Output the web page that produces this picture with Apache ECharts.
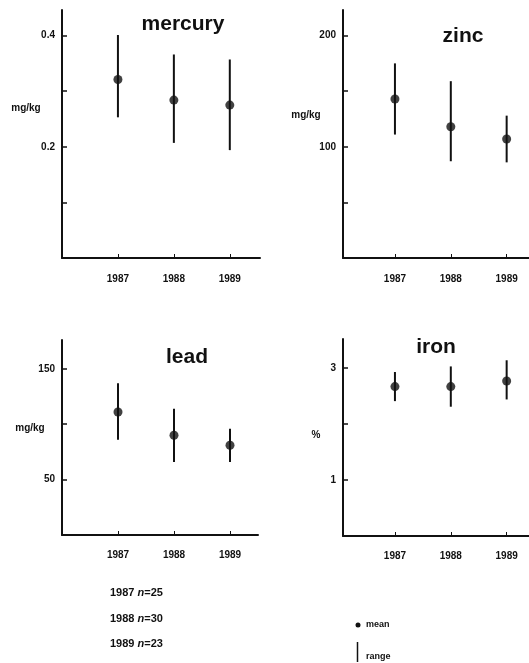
<!DOCTYPE html>
<html>
<head>
<meta charset="utf-8">
<script src="https://cdn.jsdelivr.net/npm/echarts@6/dist/echarts.min.js"></script>
<style>
  html, body { margin: 0; padding: 0; background: #fff; }
  #chart { width: 529px; height: 663px; }
</style>
</head>
<body>
<div id="chart"></div>
<script>
// years sampled
var years = [1987, 1988, 1989];

// mercury, mg/kg
var mercuryMean = [0.321, 0.284, 0.275];
var mercuryLow = [0.253, 0.207, 0.194];
var mercuryHigh = [0.401, 0.366, 0.357];

// zinc, mg/kg
var zincMean = [143, 118, 107];
var zincLow = [111, 87, 86];
var zincHigh = [175, 159, 128];

// lead, mg/kg
var leadMean = [111, 90, 81];
var leadLow = [86, 66, 66];
var leadHigh = [137, 114, 96];

// iron, %
var ironMean = [2.67, 2.67, 2.77];
var ironLow = [2.41, 2.31, 2.44];
var ironHigh = [2.93, 3.03, 3.14];

// y axis ticks and labelled ticks
var mercuryTicks = [0.1, 0.2, 0.3, 0.4];
var mercuryLabels = [0.2, 0.4];
var zincTicks = [50, 100, 150, 200];
var zincLabels = [100, 200];
var leadTicks = [50, 100, 150];
var leadLabels = [50, 150];
var ironTicks = [1, 2, 3];
var ironLabels = [1, 3];

var sampleNotes = ['1987', '1988', '1989'];
var sampleN = [25, 30, 23];

var FONT = '"Liberation Sans", Arial, sans-serif';
var INK = '#111';

var Chart = echarts.init(document.getElementById('chart'));

// one panel = grid + x axis + y axis + range bars + means
var panels = [
  { grid: { left: 62, top: 10, width: 198, height: 248 }, x: [1986, 1989.54], y: [0, 0.446],
    ticks: mercuryTicks, labels: mercuryLabels, mean: mercuryMean, low: mercuryLow, high: mercuryHigh, labelMargin: 16 },
  { grid: { left: 343, top: 10, width: 186, height: 248 }, x: [1986.07, 1989.4], y: [0, 223],
    ticks: zincTicks, labels: zincLabels, mean: zincMean, low: zincLow, high: zincHigh, labelMargin: 16 },
  { grid: { left: 62, top: 340, width: 196, height: 195 }, x: [1986, 1989.5], y: [0, 176],
    ticks: leadTicks, labels: leadLabels, mean: leadMean, low: leadLow, high: leadHigh, labelMargin: 15 },
  { grid: { left: 343, top: 339, width: 186, height: 197 }, x: [1986.07, 1989.4], y: [0, 3.52],
    ticks: ironTicks, labels: ironLabels, mean: ironMean, low: ironLow, high: ironHigh, labelMargin: 15 }
];

var grid = [], xAxis = [], yAxis = [], series = [];

panels.forEach(function (p, i) {
  grid.push(p.grid);
  xAxis.push({
    type: 'value', gridIndex: i, min: p.x[0], max: p.x[1],
    axisLine: { show: true, lineStyle: { color: INK, width: 2 } },
    axisTick: { show: true, inside: true, length: 4, customValues: years, lineStyle: { color: INK, width: 1 } },
    axisLabel: {
      customValues: years, margin: p.labelMargin,
      color: INK, fontFamily: FONT, fontWeight: 'bold', fontSize: 10,
      formatter: function (v) { return String(v); }
    },
    splitLine: { show: false }
  });
  yAxis.push({
    type: 'value', gridIndex: i, min: p.y[0], max: p.y[1],
    axisLine: { show: true, lineStyle: { color: INK, width: 2 } },
    axisTick: { show: true, inside: true, length: 5, customValues: p.ticks, lineStyle: { color: INK, width: 1.5 } },
    axisLabel: {
      customValues: p.labels, margin: 7,
      color: INK, fontFamily: FONT, fontWeight: 'bold', fontSize: 10,
      formatter: function (v) { return String(v); }
    },
    splitLine: { show: false }
  });
  series.push({
    type: 'custom', xAxisIndex: i, yAxisIndex: i,
    encode: { x: 0, y: [1, 2] },
    renderItem: function (params, api) {
      var lo = api.coord([api.value(0), api.value(1)]);
      var hi = api.coord([api.value(0), api.value(2)]);
      return { type: 'line', shape: { x1: lo[0], y1: lo[1], x2: hi[0], y2: hi[1] },
        style: { stroke: INK, lineWidth: 2 } };
    },
    data: years.map(function (y, k) { return [y, p.low[k], p.high[k]]; }),
    silent: true
  });
  series.push({
    type: 'scatter', xAxisIndex: i, yAxisIndex: i,
    symbol: 'circle', symbolSize: 9,
    itemStyle: { color: INK },
    data: years.map(function (y, k) { return [y, p.mean[k]]; }),
    silent: true
  });
});

function txt(text, x, y, size, align, extra) {
  var o = { type: 'text', x: x, y: y, silent: true,
    style: { text: text, fill: INK, font: 'bold ' + size + 'px ' + FONT,
      textAlign: align || 'center', textVerticalAlign: 'middle' } };
  if (extra) Object.assign(o.style, extra);
  return o;
}

var graphics = [
  txt('mercury', 183, 24, 21),
  txt('zinc', 463, 36, 21),
  txt('lead', 187, 357, 21),
  txt('iron', 436, 347, 21),
  txt('mg/kg', 26, 108, 10),
  txt('mg/kg', 306, 115, 10),
  txt('mg/kg', 30, 428, 10),
  txt('%', 316, 435, 10),
  // legend
  { type: 'circle', shape: { cx: 358, cy: 625, r: 2.5 }, style: { fill: INK }, silent: true },
  txt('mean', 366, 625, 9, 'left'),
  { type: 'line', shape: { x1: 357.5, y1: 642, x2: 357.5, y2: 662 }, style: { stroke: INK, lineWidth: 1.5 }, silent: true },
  txt('range', 366, 657, 9, 'left')
];

sampleNotes.forEach(function (yr, k) {
  graphics.push(txt(yr + ' {i|n}=' + sampleN[k], 110, 593 + k * 25.5, 11, 'left', {
    rich: { i: { fontStyle: 'italic', fontWeight: 'bold', fontSize: 11, fontFamily: FONT, fill: INK } }
  }));
});

var option = {
  backgroundColor: '#fff',
  animation: false,
  grid: grid,
  xAxis: xAxis,
  yAxis: yAxis,
  series: series,
  graphic: graphics
};
Chart.setOption(option);
</script>
</body>
</html>
